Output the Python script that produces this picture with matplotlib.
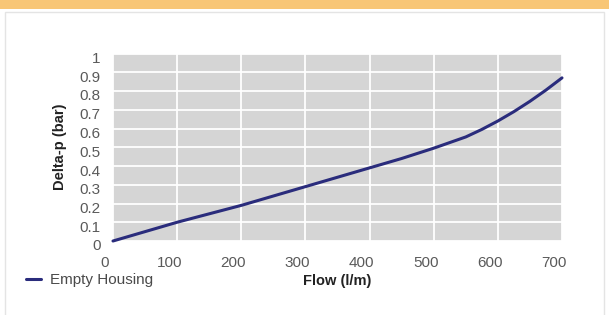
import numpy as np
import matplotlib.pyplot as plt
import matplotlib.transforms as mtransforms
from matplotlib.patches import Rectangle

plt.rcParams['font.family'] = ['Liberation Sans', 'DejaVu Sans']

# Flow (l/m) and pressure drop (bar) for the empty housing
flow = [0, 50, 100, 150, 200, 250, 300, 350, 400, 450, 500, 525, 550, 575, 600, 625, 650, 675, 700]
delta_p = [0.0, 0.05, 0.10, 0.145, 0.19, 0.24, 0.29, 0.34, 0.39, 0.44, 0.495, 0.525, 0.555,
           0.595, 0.64, 0.69, 0.745, 0.805, 0.87]
x_ticks = [0, 100, 200, 300, 400, 500, 600, 700]
y_ticks = [0, 0.1, 0.2, 0.3, 0.4, 0.5, 0.6, 0.7, 0.8, 0.9, 1]
y_labels = ['0', '0.1', '0.2', '0.3', '0.4', '0.5', '0.6', '0.7', '0.8', '0.9', '1']
series_name = 'Empty Housing'

fig = plt.figure(figsize=(6.09, 3.15), dpi=100)
fig.patch.set_facecolor('white')

# orange header strip and panel frame (behind the axes)
fig.add_artist(Rectangle((0, 1 - 9 / 315), 1, 9 / 315, transform=fig.transFigure,
                         facecolor='#f8c676', edgecolor='none', zorder=-2))
fig.add_artist(Rectangle((5 / 609, -0.01), 599 / 609, 1 - 12 / 315 + 0.01,
                         transform=fig.transFigure, facecolor='white',
                         edgecolor='#e4e4e4', linewidth=1, zorder=-1))

ax = fig.add_axes([113 / 609, 74 / 315, 449 / 609, 187.5 / 315])
ax.set_facecolor('#d5d5d5')
ax.plot(flow, delta_p, color='#2a2c7c', linewidth=2.2, solid_capstyle='round',
        label=series_name, clip_on=False, zorder=3)

ax.set_xlim(0, 700)
ax.set_ylim(0, 1)
ax.set_xticks(x_ticks)
ax.set_yticks(y_ticks)
ax.set_yticklabels(y_labels)
ax.grid(True, color='white', linewidth=1.3)
ax.set_axisbelow(True)
for s in ax.spines.values():
    s.set_visible(False)
ax.tick_params(length=0, labelsize=11, labelcolor='#5a5a5a')
ax.tick_params(axis='x', pad=11)
ax.tick_params(axis='y', pad=9)

# labels in the original sit slightly left / low of their gridlines
for lab in ax.get_xticklabels():
    lab.set_transform(lab.get_transform() + mtransforms.ScaledTranslation(-8 / 100, 0, fig.dpi_scale_trans))
for lab in ax.get_yticklabels():
    lab.set_transform(lab.get_transform() + mtransforms.ScaledTranslation(0, -4 / 100, fig.dpi_scale_trans))

ax.set_ylabel('Delta-p (bar)', fontsize=10.5, fontweight='bold', color='#222222', labelpad=9)
ax.set_xlabel('Flow (l/m)', fontsize=10.5, fontweight='bold', color='#222222', labelpad=3)

fig.legend(loc='center left', bbox_to_anchor=(12 / 609, 1 - 280 / 315), frameon=False,
           fontsize=11, labelcolor='#4a4a4a', handlelength=1.0, handletextpad=0.6)

fig.savefig('out.png', dpi=100)
